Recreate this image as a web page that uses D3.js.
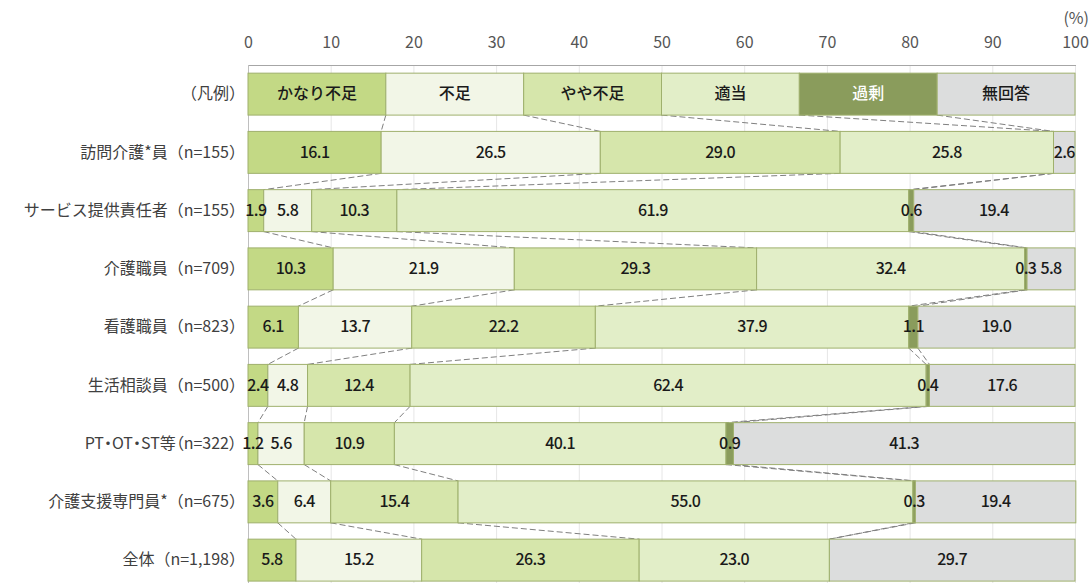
<!DOCTYPE html>
<html><head><meta charset="utf-8">
<script src="https://cdn.jsdelivr.net/npm/d3@7"></script>
<style>
body{margin:0;background:#fff;}
text{font-family:"Noto Sans CJK JP","Noto Sans",sans-serif;}
</style></head>
<body><svg id="c" width="1090" height="583"></svg>
<script>
const categories = ["（凡例）","訪問介護*員（n=155）","サービス提供責任者（n=155）","介護職員（n=709）","看護職員（n=823）","生活相談員（n=500）","PT・OT・ST等（n=322）","介護支援専門員*（n=675）","全体（n=1,198）"];
const seriesNames = ["かなり不足","不足","やや不足","適当","過剰","無回答"];
const seriesColors = ["#c3d985","#f2f6e7","#d6e6ab","#e2eec8","#8a9c5c","#dcdddd"];
const legendValues = [100/6,100/6,100/6,100/6,100/6,100/6];
const kanariFusoku = [16.1,1.9,10.3,6.1,2.4,1.2,3.6,5.8];
const fusoku       = [26.5,5.8,21.9,13.7,4.8,5.6,6.4,15.2];
const yayaFusoku   = [29.0,10.3,29.3,22.2,12.4,10.9,15.4,26.3];
const tekitou      = [25.8,61.9,32.4,37.9,62.4,40.1,55.0,23.0];
const kajou        = [0,0.6,0.3,1.1,0.4,0.9,0.3,0];
const mukaitou     = [2.6,19.4,5.8,19.0,17.6,41.3,19.4,29.7];
const xTicks = [0,10,20,30,40,50,60,70,80,90,100];

const svg = d3.select("#c");
const mLeft = 248, mRight = 1075, mTop = 65;
const x = d3.scaleLinear().domain([0,100]).range([mLeft,mRight]);
const y = d3.scaleBand().domain(categories).range([mTop, mTop + 58.25*9]).paddingInner(0.28).paddingOuter(0.14);

const dataSeries = [kanariFusoku,fusoku,yayaFusoku,tekitou,kajou,mukaitou];
const rows = categories.map((c,i)=>{
  const vals = i===0 ? legendValues : dataSeries.map(s=>s[i-1]);
  let acc=0;
  return {cat:c, legend:i===0, segs: vals.map((v,j)=>{const s={x0:acc,x1:acc+v,v,j}; acc+=v; return s;})};
});

// gridlines
svg.append("g").selectAll("line").data(xTicks).join("line")
  .attr("x1",d=>x(d)+0.5).attr("x2",d=>x(d)+0.5).attr("y1",mTop).attr("y2",583)
  .attr("stroke","#e6e6e6").attr("stroke-width",1);
// top & left border
svg.append("line").attr("x1",mLeft).attr("x2",mRight+1).attr("y1",mTop+0.5).attr("y2",mTop+0.5).attr("stroke","#a6a6a6");
svg.append("line").attr("x1",mLeft+0.5).attr("x2",mLeft+0.5).attr("y1",mTop).attr("y2",583).attr("stroke","#bfbfbf");

// x axis tick labels
const ax = svg.append("g").attr("transform",`translate(0,${mTop})`)
  .call(d3.axisTop(x).tickValues(xTicks).tickSize(0).tickPadding(17));
ax.select(".domain").remove();
ax.selectAll("text").attr("font-size",16).attr("fill","#555").style("font-family","'Noto Sans CJK JP',sans-serif");
svg.append("text").attr("x",1089).attr("y",24).attr("text-anchor","end").attr("font-size",16).attr("fill","#555").text("(%)");

// connecting dashed lines
for(let i=0;i<rows.length-1;i++){
  const a=rows[i], b=rows[i+1];
  for(let j=0;j<5;j++){
    svg.append("line")
      .attr("x1",x(a.segs[j].x1)).attr("y1",y(a.cat)+y.bandwidth())
      .attr("x2",x(b.segs[j].x1)).attr("y2",y(b.cat))
      .attr("stroke","#7f7f7f").attr("stroke-width",1).attr("stroke-dasharray","6,3");
  }
}

// bars
const g = svg.append("g").selectAll("g").data(rows).join("g");
g.selectAll("rect").data(d=>d.segs.filter(s=>s.v>0).map(s=>({...s,cat:d.cat}))).join("rect")
  .attr("x",d=>x(d.x0)).attr("y",d=>y(d.cat))
  .attr("width",d=>x(d.x1)-x(d.x0)).attr("height",y.bandwidth())
  .attr("fill",d=>seriesColors[d.j]).attr("stroke","#9fb06d").attr("stroke-width",1);

// labels
g.each(function(r){
  d3.select(this).selectAll("text").data(r.segs.filter(s=>s.v>0)).join("text")
    .attr("x",d=>x((d.x0+d.x1)/2)).attr("y",y(r.cat)+y.bandwidth()/2+1)
    .attr("text-anchor","middle").attr("dominant-baseline","middle")
    .attr("font-size",16).attr("font-weight",500)
    .attr("letter-spacing", r.legend ? null : "-0.6px")
    .attr("fill",d=> (r.legend && d.j===4) ? "#fff" : "#1a1a1a")
    .text(d=> r.legend ? seriesNames[d.j] : d.v.toFixed(1));
});

// category labels
svg.append("g").selectAll("text").data(categories).join("text")
  .attr("x",d=>d.includes("・") ? 237 : 245).attr("y",d=>y(d)+y.bandwidth()/2+1)
  .attr("text-anchor","end").attr("dominant-baseline","middle")
  .attr("font-size",16).attr("fill","#404040")
  .style("font-feature-settings",d=>d.includes("・")?"'palt'":null)
  .text(d=>d);
</script></body></html>
